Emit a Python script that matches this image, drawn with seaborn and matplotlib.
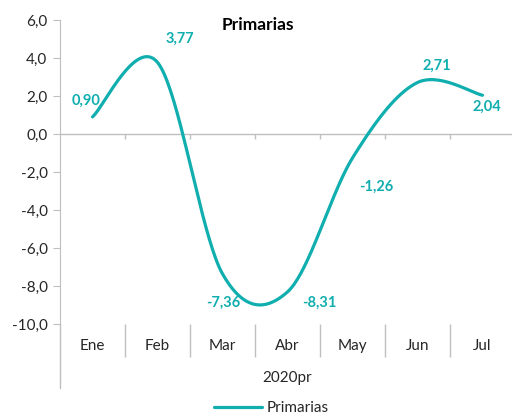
import numpy as np
import pandas as pd
import matplotlib
matplotlib.use("Agg")
import matplotlib.pyplot as plt
import seaborn as sns

# data
months = ["Ene", "Feb", "Mar", "Abr", "May", "Jun", "Jul"]
primarias = [0.90, 3.77, -7.36, -8.31, -1.26, 2.71, 2.04]
label_offsets = [(-6, 16), (22, 24), (1, -29), (32, -11), (24, -29), (19, 17), (4, -12)]
year_label = "2020pr"
yticks = [6, 4, 2, 0, -2, -4, -6, -8, -10]

TEAL = "#10AEAE"
GRAY = "#BFBFBF"
TEXT = "#262626"


def smooth_line(x, y, n=40):
    """Excel-like smoothed line: cubic Bezier segments with Catmull-Rom tangents."""
    pts = np.column_stack([x, y]).astype(float)
    out = [pts[0]]
    for i in range(len(pts) - 1):
        p0 = pts[max(i - 1, 0)]
        p1, p2 = pts[i], pts[i + 1]
        p3 = pts[min(i + 2, len(pts) - 1)]
        c1 = p1 + (p2 - p0) / 6
        c2 = p2 - (p3 - p1) / 6
        t = np.linspace(0, 1, n)[1:, None]
        seg = ((1 - t) ** 3) * p1 + 3 * ((1 - t) ** 2) * t * c1 + 3 * (1 - t) * t ** 2 * c2 + t ** 3 * p2
        out.extend(seg)
    out = np.array(out)
    return out[:, 0], out[:, 1]


sns.set_style("white")
plt.rcParams["font.family"] = ["Lato", "DejaVu Sans"]

fig = plt.figure(figsize=(5.12, 4.16), dpi=100)
ax = fig.add_axes([60 / 512, 1 - 324 / 416, 455 / 512, 304 / 416])

xs, ys = smooth_line(np.arange(len(months)), primarias)
sm = pd.DataFrame({"x": xs, "y": ys})
sns.lineplot(data=sm, x="x", y="y", ax=ax, color=TEAL, linewidth=2.3,
             sort=False, label="Primarias", legend=False)

for i, (v, off) in enumerate(zip(primarias, label_offsets)):
    ax.annotate(f"{v:.2f}".replace(".", ","), (i, v), xytext=off,
                textcoords="offset pixels", ha="center", va="center",
                color=TEAL, fontsize=10.5, fontweight="bold")

ax.set_xlim(-0.5, len(months) - 0.5)
ax.set_ylim(-10, 6)
ax.set_yticks(yticks)
ax.set_yticklabels([f"{t:.1f}".replace(".", ",") for t in yticks], fontsize=11, color=TEXT)
ax.set_xticks([])
ax.set_xlabel("")
ax.set_ylabel("")
for s in ["top", "right", "bottom"]:
    ax.spines[s].set_visible(False)
ax.spines["left"].set_color(GRAY)
ax.spines["left"].set_bounds(-10, 6)
ax.tick_params(axis="y", left=True, length=5, color=GRAY, pad=4)

# zero line with small tick marks between categories
ax.axhline(0, color=GRAY, linewidth=1, zorder=0)
seps = np.arange(len(months) + 1) - 0.5
ax.vlines(seps[1:], 0, -0.27, color=GRAY, linewidth=1, zorder=0)

# category axis below the plot
xt = ax.get_xaxis_transform()
ax.vlines(seps[1:-1], -0.108, 0, color=GRAY, linewidth=1, transform=xt, clip_on=False)
ax.plot([-0.5, -0.5], [-0.21, 0], color=GRAY, linewidth=1, transform=xt, clip_on=False)
for i, m in enumerate(months):
    ax.text(i, -0.072, m, transform=xt, ha="center", va="center", fontsize=11, color=TEXT)
ax.text((len(months) - 1) / 2, -0.178, year_label, transform=xt, ha="center",
        va="center", fontsize=11, color=TEXT)

ax.set_title("Primarias", fontsize=12.5, fontweight="bold", color="black",
             x=0.435, y=0.955, va="center")

fig.legend(loc="center", bbox_to_anchor=(0.53, 1 - 408 / 416), frameon=False,
           fontsize=11, handlelength=3.2, handletextpad=0.3)

fig.savefig("out.png", dpi=100)
